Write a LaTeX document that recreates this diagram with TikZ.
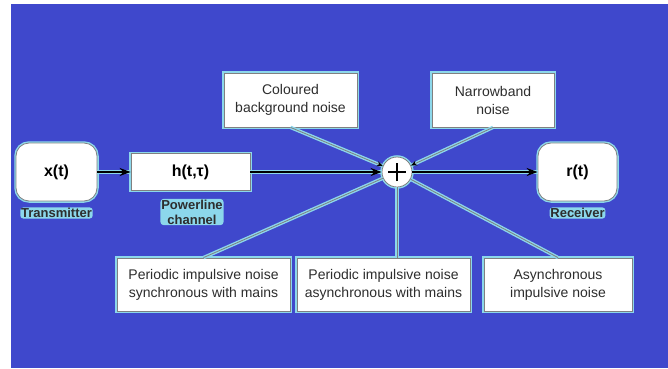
\documentclass[tikz,border=0pt]{standalone}
\usepackage{tikz}
\usepackage{fontspec}
\setmainfont{Liberation Sans}
\usetikzlibrary{arrows.meta}
\usepackage{color}
\definecolor{slideblue}{RGB}{63,72,204}
\definecolor{glow}{RGB}{140,215,235}
\definecolor{rim}{RGB}{128,128,128}
\definecolor{ink}{RGB}{45,45,45}

\begin{document}
\begin{tikzpicture}[x=1pt, y=1pt, >={Stealth[length=11pt, width=8pt]},
		box/.style={draw=rim, line width=0.8pt, fill=white, preaction={draw=glow, line width=3.5pt},
			inner sep=0pt, text=ink, align=center, font=\fontsize{14}{18}\selectfont},
		endbox/.style={box, rounded corners=13pt, text=black, font=\bfseries\fontsize{16}{19}\selectfont},
		tag/.style={fill=glow, rounded corners=3pt, inner sep=0.8pt, text=ink, align=center,
			font=\bfseries\fontsize{13}{15}\selectfont},
		feed/.style={draw=rim, line width=0.8pt, preaction={-, draw=glow, line width=3.5pt}},
		sig/.style={->, draw=black, line width=1.6pt, preaction={-, draw=glow, line width=4.2pt}}]
			% Slide background
			\useasboundingbox (0,0) rectangle (668,368);
			\fill[slideblue] (11,0) rectangle (668,364);

			% Main chain
			\node[endbox, minimum width=81pt, minimum height=58pt] (tx) at (56.5,196) {x(t)};
			\node[box, minimum width=119pt, minimum height=37pt, text=black,
				font=\bfseries\fontsize{16}{19}\selectfont] (ch) at (190.5,196) {h(t,τ)};
			\node[circle, draw=rim, fill=white, line width=0.8pt, preaction={draw=glow, line width=3.5pt},
				minimum size=30pt, inner sep=0pt] (sum) at (397,196) {};
			\node[endbox, minimum width=79pt, minimum height=58pt] (rx) at (577.5,196) {r(t)};

			% Captions under the blocks
			\node[tag] (txlab) at (56.5,155) {Transmitter};
			\node[tag] (chlab) at (192,156) {Powerline\\channel};
			\node[tag] (rxlab) at (577.5,155) {Receiver};

			% Noise sources
			\node[box, minimum width=133pt, minimum height=54pt] (cbn) at (290.5,268) {Coloured\\background noise};
			\node[box, minimum width=122pt, minimum height=54pt] (nbn) at (493,268) {Narrowband\\noise};
			\node[box, minimum width=173pt, minimum height=53pt] (psn) at (203.5,83.5) {Periodic impulsive noise\\synchronous with mains};
			\node[box, minimum width=173pt, minimum height=53pt] (pan) at (383.5,83.5) {Periodic impulsive noise\\asynchronous with mains};
			\node[box, minimum width=148pt, minimum height=53pt] (ain) at (558,83.5) {Asynchronous\\impulsive noise};

			% Signal path
			\draw[sig] (tx) -- (ch);
			\draw[sig] (ch) -- (sum);
			\draw[sig] (sum) -- (rx);

			% Noise added at the sum
			\draw[feed, -{Stealth[length=6pt, width=5pt, color=black]}] (cbn.south) -- (sum);
			\draw[feed, -{Stealth[length=6pt, width=5pt, color=black]}] (nbn.south) -- (sum);
			\draw[feed] (psn.north) -- (sum);
			\draw[feed] (sum |- pan.north) -- (sum);
			\draw[feed] (ain.north) -- (sum);

			% Plus sign
			\draw[line width=2pt] ([xshift=-9pt]sum.center) -- ([xshift=9pt]sum.center);
			\draw[line width=2pt] ([yshift=-9pt]sum.center) -- ([yshift=9pt]sum.center);
		\end{tikzpicture}
\end{document}
